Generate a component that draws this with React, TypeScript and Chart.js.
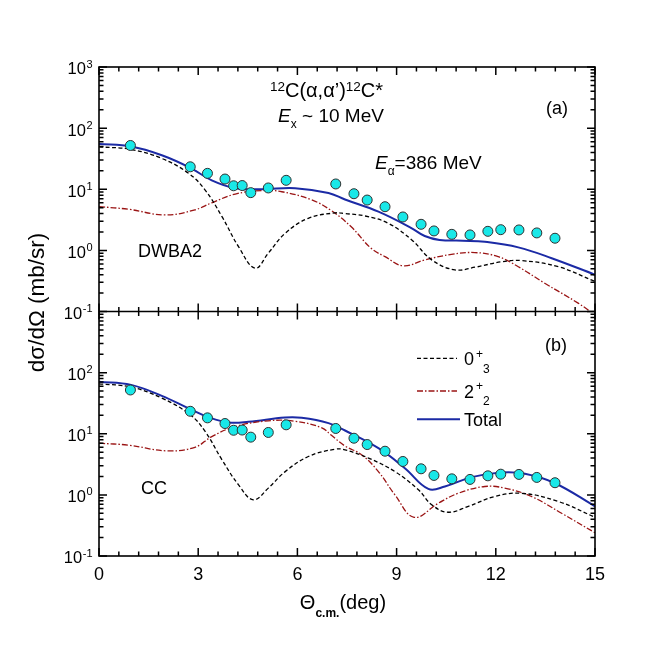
import React, { useEffect, useRef } from 'react';
import { Chart, registerables } from 'chart.js';

Chart.register(...registerables);

// ---------- data ----------
const EXP_THETA = [0.95, 2.76, 3.28, 3.81, 4.07, 4.33, 4.59, 5.12, 5.66, 7.16, 7.71, 8.11, 8.65, 9.19, 9.74, 10.13, 10.67, 11.22, 11.76, 12.15, 12.7, 13.24, 13.79];
const EXP_DSIG = [52, 23.3, 18.2, 14.7, 11.4, 11.5, 8.8, 10.5, 14.0, 12.2, 8.45, 6.66, 5.18, 3.52, 2.67, 2.08, 1.83, 1.79, 2.05, 2.18, 2.16, 1.93, 1.58];

// panel (a) DWBA2
const DW_TOTAL_THETA = [0, 0.97, 1.9, 2.76, 3.41, 4.12, 4.92, 5.93, 6.94, 7.44, 8.45, 9.46, 9.85, 10.3, 11.0, 11.67, 12.68, 13.69, 15];
const DW_TOTAL = [55, 50, 36, 22.4, 14, 10.4, 10, 10.4, 8.7, 6.8, 4.3, 2.3, 1.72, 1.48, 1.44, 1.38, 1.12, 0.745, 0.4];
const DW_03_THETA = [0, 0.97, 1.9, 2.71, 3.21, 3.72, 4.22, 4.72, 5.12, 5.63, 6.33, 7.14, 7.44, 8.05, 8.75, 9.46, 10.06, 10.76, 11.37, 12.17, 12.78, 13.89, 15];
const DW_03 = [49.4, 44.8, 31.9, 18.2, 9.7, 3.56, 1.15, 0.51, 0.9, 1.9, 3.35, 4.1, 4.0, 3.65, 2.77, 1.48, 0.7, 0.48, 0.53, 0.65, 0.68, 0.54, 0.31];
const DW_22_THETA = [0, 0.9, 2.0, 2.9, 3.41, 4.12, 4.92, 5.53, 6.43, 7.02, 7.62, 8.23, 8.65, 9.2, 9.86, 10.66, 11.37, 12.07, 12.68, 13.48, 14.49, 15];
const DW_22 = [5.2, 4.7, 3.8, 4.6, 6.0, 8.35, 9.5, 9.1, 6.7, 4.5, 2.45, 1.08, 0.79, 0.56, 0.7, 0.86, 0.92, 0.79, 0.54, 0.29, 0.137, 0.088];

// panel (b) CC
const CC_TOTAL_THETA = [0, 0.97, 1.9, 2.76, 3.31, 3.92, 4.52, 5.63, 6.13, 6.94, 7.44, 8.45, 9.25, 9.96, 10.46, 11.27, 12.17, 12.88, 13.79, 15];
const CC_TOTAL = [71, 63, 41.7, 25.3, 18.7, 15.3, 15.7, 18.4, 18.2, 14.9, 11.3, 5.8, 2.73, 1.25, 1.37, 1.95, 2.32, 2.21, 1.55, 0.65];
const CC_03_THETA = [0, 0.97, 1.9, 2.76, 3.21, 3.72, 4.22, 4.67, 5.12, 5.63, 6.33, 7.14, 7.44, 8.15, 8.95, 9.66, 10.06, 10.56, 11.17, 11.97, 12.78, 13.89, 15];
const CC_03 = [65.6, 58, 38.3, 20.4, 10.9, 3.74, 1.46, 0.83, 1.29, 2.4, 4.24, 5.6, 5.45, 4.0, 2.4, 1.21, 0.69, 0.52, 0.65, 0.94, 1.06, 0.78, 0.43];
const CC_22_THETA = [0, 0.9, 2.05, 2.9, 3.41, 4.12, 5.12, 5.93, 6.74, 7.02, 7.44, 7.95, 8.45, 8.95, 9.53, 10.26, 10.86, 11.67, 12.27, 13.08, 13.99, 15];
const CC_22 = [7.0, 6.5, 5.25, 6.0, 9.0, 13.1, 16.3, 16.0, 12.5, 9.5, 6.3, 4.5, 2.4, 1.0, 0.43, 0.73, 1.06, 1.37, 1.29, 0.94, 0.5, 0.24];

const X_TICKS = [0, 3, 6, 9, 12, 15];
const Y_DECADES = [-1, 0, 1, 2, 3];

// ---------- styles ----------
const FONT = "'Liberation Sans', Arial, Helvetica, sans-serif";
const BLUE = '#1b2aa5';
const RED = '#9a1414';
const BLACK = '#000000';
const CYAN = '#19e8e8';
const DASH_03 = [4, 2.5];
const DASH_22 = [6, 2, 1.5, 2];

type Part = { t: string; size: number; dy?: number; style?: string; weight?: string; dx?: number };

function setFont(ctx: CanvasRenderingContext2D, p: Part) {
  ctx.font = `${p.style || 'normal'} ${p.weight || 'normal'} ${p.size}px ${FONT}`;
}

function drawParts(ctx: CanvasRenderingContext2D, parts: Part[], x: number, baseline: number, align: 'left' | 'center' | 'right') {
  let total = 0;
  const widths = parts.map((p) => {
    setFont(ctx, p);
    const w = ctx.measureText(p.t).width + (p.dx || 0);
    total += w;
    return w;
  });
  let cx = align === 'left' ? x : align === 'center' ? x - total / 2 : x - total;
  ctx.textAlign = 'left';
  ctx.textBaseline = 'alphabetic';
  parts.forEach((p, i) => {
    setFont(ctx, p);
    ctx.fillText(p.t, cx + (p.dx || 0), baseline + (p.dy || 0));
    cx += widths[i];
  });
}

const xy = (xs: number[], ys: number[]) => xs.map((x, i) => ({ x, y: ys[i] }));

const panelClip = {
  id: 'panelClip',
  beforeDatasetDraw(chart: any, args: any) {
    const ys = chart.scales[args.meta.yAxisID];
    const a = chart.chartArea;
    const ctx = chart.ctx;
    ctx.save();
    ctx.beginPath();
    ctx.rect(a.left - 8, ys.top, a.right - a.left + 16, ys.bottom - ys.top);
    ctx.clip();
  },
  afterDatasetDraw(chart: any) {
    chart.ctx.restore();
  },
};

const decor = {
  id: 'decor',
  afterDraw(chart: any) {
    const ctx: CanvasRenderingContext2D = chart.ctx;
    const xs = chart.scales.x;
    const yT = chart.scales.yTop;
    const yB = chart.scales.yBot;
    const a = chart.chartArea;
    ctx.save();
    ctx.fillStyle = BLACK;
    ctx.strokeStyle = BLACK;
    ctx.setLineDash([]);

    // ticks
    ctx.lineWidth = 1.5;
    const MAJ = 8;
    const MIN = 4.5;
    ctx.beginPath();
    [yT, yB].forEach((ys: any) => {
      for (let k = 0; k <= 25; k++) {
        const v = k * 0.6;
        const px = xs.getPixelForValue(v);
        const L = k % 5 === 0 ? MAJ : MIN;
        ctx.moveTo(px, ys.top);
        ctx.lineTo(px, ys.top + L);
        ctx.moveTo(px, ys.bottom);
        ctx.lineTo(px, ys.bottom - L);
      }
      for (let d = -1; d <= 3; d++) {
        for (let m = 1; m <= 9; m++) {
          if (d === 3 && m > 1) break;
          const v = m * Math.pow(10, d);
          const py = ys.getPixelForValue(v);
          const L = m === 1 ? MAJ : MIN;
          ctx.moveTo(a.left, py);
          ctx.lineTo(a.left + L, py);
          ctx.moveTo(a.right, py);
          ctx.lineTo(a.right - L, py);
        }
      }
    });
    ctx.stroke();

    // frame
    ctx.lineWidth = 1.6;
    ctx.strokeRect(a.left, a.top, a.right - a.left, a.bottom - a.top);
    ctx.beginPath();
    ctx.moveTo(a.left, yT.bottom);
    ctx.lineTo(a.right, yT.bottom);
    ctx.stroke();

    // y tick labels
    const yLab = (ys: any, skipTop: boolean) => {
      Y_DECADES.forEach((d) => {
        if (skipTop && d === 3) return;
        const py = ys.getPixelForValue(Math.pow(10, d));
        drawParts(ctx, [
          { t: '10', size: 16.5 },
          { t: String(d), size: 11, dy: -6.8, dx: 0.5 },
        ], 92.5, py + 7.4, 'right');
      });
    };
    yLab(yT, false);
    yLab(yB, true);

    // x tick labels
    X_TICKS.forEach((v) => {
      drawParts(ctx, [{ t: String(v), size: 18 }], xs.getPixelForValue(v), 579.5, 'center');
    });

    // axis titles
    drawParts(ctx, [
      { t: '\u0398', size: 20 },
      { t: 'c.m.', size: 12, weight: 'bold', dy: 8 },
      { t: '(deg)', size: 20 },
    ], 343, 609, 'center');

    ctx.save();
    ctx.translate(44, 302.5);
    ctx.rotate(-Math.PI / 2);
    drawParts(ctx, [{ t: 'd\u03c3/d\u03a9 (mb/sr)', size: 22.5 }], 0, 0, 'center');
    ctx.restore();

    // panel (a) annotations
    drawParts(ctx, [
      { t: '12', size: 13.5, dy: -5.8 },
      { t: 'C(\u03b1,\u03b1\u2019)', size: 20 },
      { t: '12', size: 13.5, dy: -5.8 },
      { t: 'C*', size: 20 },
    ], 326.5, 97, 'center');
    drawParts(ctx, [
      { t: 'E', size: 19, style: 'italic' },
      { t: 'x', size: 12, dy: 6.5 },
      { t: ' ~ 10 MeV', size: 19 },
    ], 331, 121.8, 'center');
    drawParts(ctx, [
      { t: 'E', size: 19, style: 'italic' },
      { t: '\u03b1', size: 12, dy: 6 },
      { t: '=386 MeV', size: 19 },
    ], 375, 168.8, 'left');
    drawParts(ctx, [{ t: '(a)', size: 18 }], 546, 114.4, 'left');
    drawParts(ctx, [{ t: 'DWBA2', size: 18 }], 138, 256.6, 'left');

    // panel (b) annotations
    drawParts(ctx, [{ t: '(b)', size: 18 }], 545, 351.4, 'left');
    drawParts(ctx, [{ t: 'CC', size: 18 }], 141, 494.4, 'left');

    // legend
    const legendLine = (y: number, color: string, dash: number[], w: number, x2: number) => {
      ctx.save();
      ctx.strokeStyle = color;
      ctx.lineWidth = w;
      ctx.setLineDash(dash);
      ctx.beginPath();
      ctx.moveTo(417, y);
      ctx.lineTo(x2, y);
      ctx.stroke();
      ctx.restore();
    };
    legendLine(358.3, BLACK, DASH_03, 1.3, 457);
    legendLine(391, RED, DASH_22, 1.3, 457);
    legendLine(419.3, BLUE, [], 2, 460);
    ctx.fillStyle = BLACK;
    const stateLabel = (main: string, sub: string, cy: number) => {
      drawParts(ctx, [{ t: main, size: 18 }], 464, cy + 6.4, 'left');
      drawParts(ctx, [{ t: '+', size: 12 }], 476, cy - 1.5, 'left');
      drawParts(ctx, [{ t: sub, size: 12 }], 483, cy + 13.8, 'left');
    };
    stateLabel('0', '3', 359);
    stateLabel('2', '2', 391.5);
    drawParts(ctx, [{ t: 'Total', size: 18 }], 464, 426, 'left');

    ctx.restore();
  },
};

const lineDs = (data: any[], yAxisID: string, color: string, dash: number[], width: number) => ({
  type: 'line',
  data,
  yAxisID,
  xAxisID: 'x',
  borderColor: color,
  borderDash: dash,
  borderWidth: width,
  pointRadius: 0,
  fill: false,
  tension: 0.4,
  order: 1,
});

const pointDs = (yAxisID: string) => ({
  type: 'scatter',
  data: xy(EXP_THETA, EXP_DSIG),
  yAxisID,
  xAxisID: 'x',
  showLine: false,
  pointRadius: 5,
  pointBackgroundColor: CYAN,
  pointBorderColor: '#303030',
  pointBorderWidth: 1,
  order: 0,
});

const hiddenAxis = (extra: any) => ({
  display: true,
  ticks: { display: false },
  grid: { display: false, drawTicks: false },
  border: { display: false },
  ...extra,
});

export default function App() {
  const ref = useRef<HTMLCanvasElement>(null);
  useEffect(() => {
    if (!ref.current) return;
    const chart = new Chart(ref.current, {
      type: 'line',
      data: {
        datasets: [
          pointDs('yTop'),
          pointDs('yBot'),
          lineDs(xy(DW_03_THETA, DW_03), 'yTop', BLACK, DASH_03, 1.3),
          lineDs(xy(DW_22_THETA, DW_22), 'yTop', RED, DASH_22, 1.3),
          lineDs(xy(DW_TOTAL_THETA, DW_TOTAL), 'yTop', BLUE, [], 2),
          lineDs(xy(CC_03_THETA, CC_03), 'yBot', BLACK, DASH_03, 1.3),
          lineDs(xy(CC_22_THETA, CC_22), 'yBot', RED, DASH_22, 1.3),
          lineDs(xy(CC_TOTAL_THETA, CC_TOTAL), 'yBot', BLUE, [], 2),
        ] as any,
      },
      options: {
        responsive: false,
        animation: false,
        devicePixelRatio: 1,
        layout: { padding: { left: 99, right: 67, top: 67, bottom: 106 } },
        plugins: { legend: { display: false }, tooltip: { enabled: false } },
        events: [],
        scales: {
          x: hiddenAxis({ type: 'linear', min: 0, max: 15, position: 'bottom', afterFit: (s: any) => { s.height = 0; } }),
          yBot: hiddenAxis({ type: 'logarithmic', min: 0.1, max: 1000, position: 'left', stack: 'panels', stackWeight: 1, afterFit: (s: any) => { s.width = 0; } }),
          yTop: hiddenAxis({ type: 'logarithmic', min: 0.1, max: 1000, position: 'left', stack: 'panels', stackWeight: 1, afterFit: (s: any) => { s.width = 0; } }),
        } as any,
      },
      plugins: [panelClip, decor],
    });
    return () => chart.destroy();
  }, []);
  return (
    <div style={{ position: 'absolute', left: 0, top: 0, width: 662, height: 662, background: '#fff' }}>
      <canvas ref={ref} width={662} height={662} style={{ display: 'block' }} />
    </div>
  );
}
